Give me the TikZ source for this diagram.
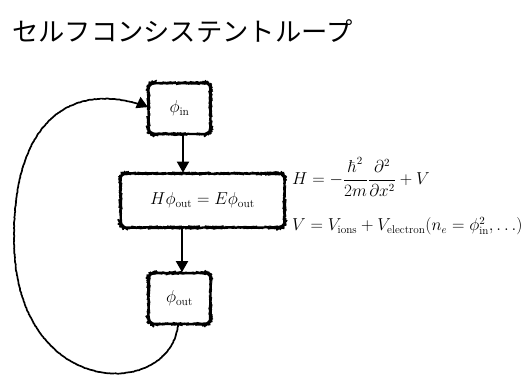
\documentclass[tikz,border=0pt]{standalone}
\usepackage{amsmath}
\usepackage{fontspec}
\usepackage{tikz}
\usetikzlibrary{positioning,arrows.meta,decorations.pathmorphing}
\newfontfamily\jpfont{Noto Sans CJK JP}

\begin{document}
\begin{tikzpicture}[
    x=1pt, y=-1pt,
    >={Triangle[length=11pt,width=12pt]},
    sketch/.style={decorate, decoration={random steps, segment length=1.5pt, amplitude=0.25pt}},
    box/.style={sketch, draw, line width=1.7pt, rounded corners=6pt, align=center, inner sep=2pt,
      font=\fontsize{16.5}{19}\selectfont},
    small/.style={box, minimum width=62pt, minimum height=51pt},
    wide/.style={box, minimum width=164pt, minimum height=54pt},
    flow/.style={->, line width=1.9pt},
    loop/.style={->, sketch, line width=1.7pt},
    eqn/.style={anchor=west, font=\fontsize{16}{19}\selectfont, inner sep=0pt},
  ]
\useasboundingbox (0,0) rectangle (525,380);

% ===== title =====
\node[anchor=west, inner sep=0pt, font=\jpfont\fontsize{26.3}{30}\selectfont] (title) at (12,31) {セルフコンシステントループ};

% ===== loop boxes =====
\node[small] (phiIn) at (179.5,108.5) {$\phi_{\mathrm{in}}$};
\node[wide] (solve) at (202.5,200.5) {$H\phi_{\mathrm{out}} = E\phi_{\mathrm{out}}$};
\node[small] (phiOut) at (179.5,298.5) {$\phi_{\mathrm{out}}$};

% Arrows
\draw[flow] (phiIn.south -| 183,0) -- (solve.north -| 183,0);
\draw[flow] (solve.south -| 182,0) -- (phiOut.north -| 182,0);
\coordinate (loopLeft) at (14,240);
\draw[loop] (phiOut.south -| 178,0) .. controls (170,400) and (15,400) .. (loopLeft)
  .. controls (13,110) and (80,82) .. (phiIn.west |- 0,107);

% ===== equations =====
\node[eqn] (hamil) at (292,177) {$H = -\dfrac{\hbar^2}{2m}\dfrac{\partial^2}{\partial x^2} + V$};
\node[eqn] (pot) at (292,226) {$V = V_{\mathrm{ions}} + V_{\mathrm{electron}}(n_e = \phi^2_{\mathrm{in}}, \ldots)$};

\end{tikzpicture}
\end{document}
